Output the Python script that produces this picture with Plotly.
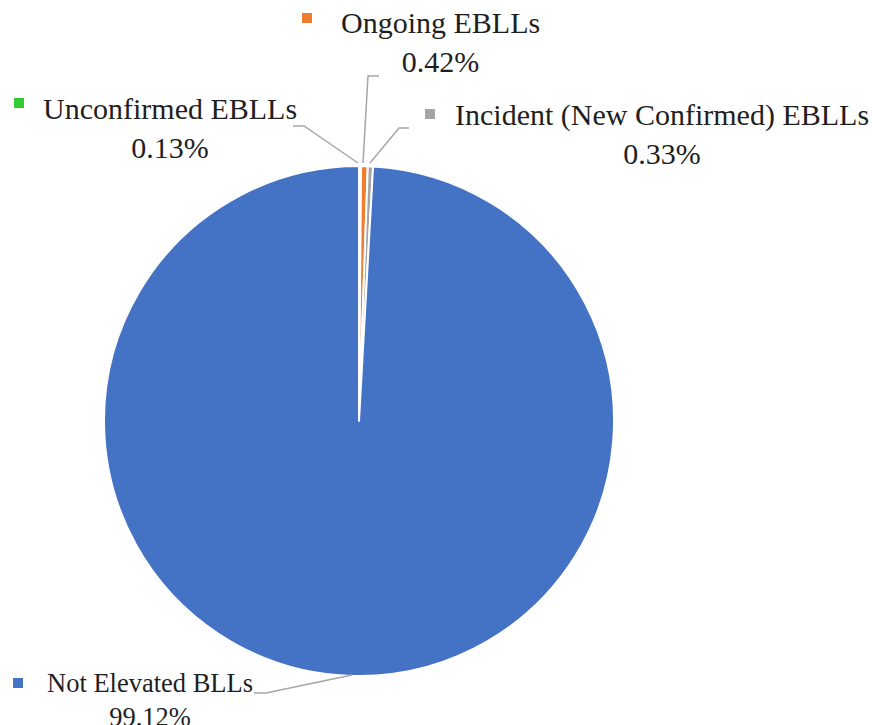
import plotly.graph_objects as go

labels = ["Unconfirmed EBLLs", "Ongoing EBLLs", "Incident (New Confirmed) EBLLs", "Not Elevated BLLs"]
values = [0.13, 0.42, 0.33, 99.12]
colors = ["#33CC33", "#ED7D31", "#A5A5A5", "#4472C4"]

W, H = 872, 725
# label block centers (px), font sizes and marker square positions (px) -- layout only
label_pos = [(169.5, 128), (440, 42), (662, 134), (150, 700)]
label_size = [30, 30, 30, 26.5]
square_pos = [(19, 103), (307, 18), (430, 114), (18, 683)]
leaders = [
    [(293, 126), (304, 126), (358, 163)],
    [(379, 76), (368, 76), (363, 163)],
    [(409, 128), (399, 128), (370, 163)],
    [(254, 693), (266, 693), (352, 675)],
]

cx, cy, r = 359, 421, 255

fig = go.Figure(go.Pie(
    labels=labels, values=values, sort=False, direction="clockwise", rotation=0,
    marker=dict(colors=colors, line=dict(color="white", width=2)),
    textinfo="none", hoverinfo="label+percent",
    domain=dict(x=[(cx - r) / W, (cx + r) / W], y=[1 - (cy + r) / H, 1 - (cy - r) / H]),
    showlegend=False,
))

def px(x):
    return x / W

def py(y):
    return 1 - y / H

shapes = []
for pts in leaders:
    path = "M " + " L ".join(f"{px(x)},{py(y)}" for x, y in pts)
    shapes.append(dict(type="path", path=path, xref="paper", yref="paper",
                       line=dict(color="#A6A6A6", width=1.5)))
sq = 5
for (x, y), c in zip(square_pos, colors):
    shapes.append(dict(type="rect", xref="paper", yref="paper",
                       x0=px(x - sq), x1=px(x + sq), y0=py(y + sq), y1=py(y - sq),
                       fillcolor=c, line=dict(width=0)))

annotations = []
for (x, y), s, lab, v in zip(label_pos, label_size, labels, values):
    annotations.append(dict(
        x=px(x), y=py(y), xref="paper", yref="paper", xanchor="center", yanchor="middle",
        text=f"{lab}<br>{v:.2f}%", showarrow=False, align="center",
        font=dict(family="Liberation Serif, Times New Roman, serif", size=s, color="#1F1F1F"),
    ))

fig.update_layout(
    width=W, height=H, margin=dict(l=0, r=0, t=0, b=0),
    paper_bgcolor="white", plot_bgcolor="white",
    shapes=shapes, annotations=annotations,
)
fig.write_html("out.html")
